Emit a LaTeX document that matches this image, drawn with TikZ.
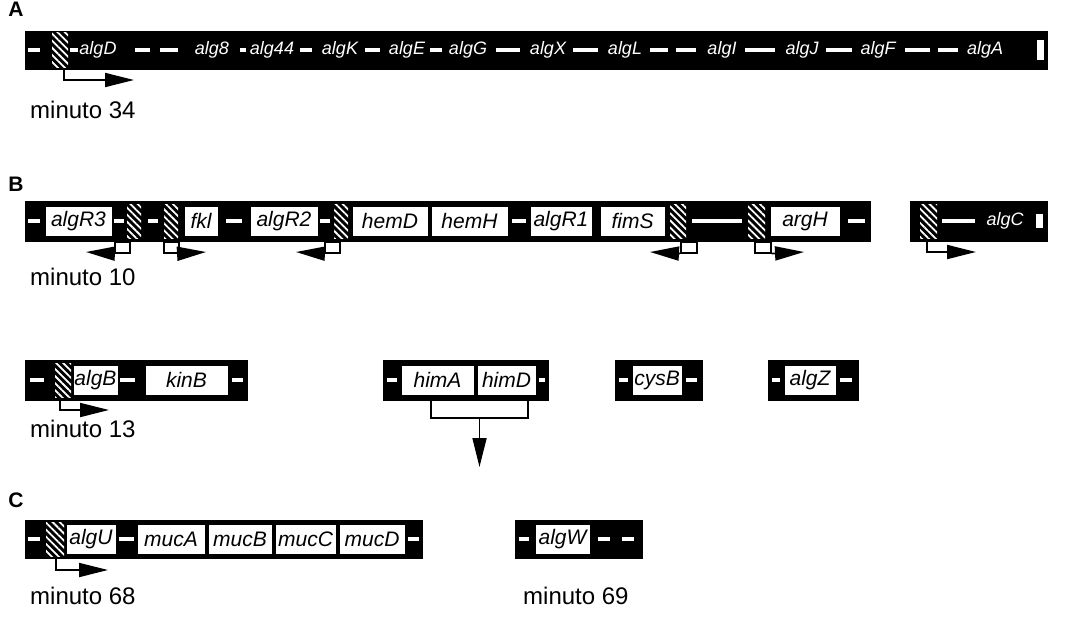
\documentclass[tikz,border=0pt]{standalone}
\usepackage{fontspec}
\setmainfont{Liberation Sans}
\usetikzlibrary{arrows.meta,patterns.meta}
\newcommand\gn[6][gene]{\node[#1,minimum width={#4-#3}] (#2) at ({(#3+#4)/2},#5) {#6};}
\newcommand\hb[4]{\node[hatchbox,minimum width={#3-#2}] (#1) at ({(#2+#3)/2},#4) {};}
\newcommand\tk[3]{\fill[white] (#1,{#3-2}) rectangle (#2,{#3+2});}
\begin{document}
\begin{tikzpicture}[x=1pt,y=-1pt,
  bar/.style={fill=black,draw=black,inner sep=0,minimum height=38},
  gene/.style={draw=black,fill=white,inner sep=0,line width=0.8pt,minimum height=30,font=\fontsize{21}{24}\selectfont\itshape},
  dgene/.style={text=white,inner sep=0,font=\fontsize{18}{22}\selectfont\itshape},
  hatchbox/.style={pattern={Lines[angle=-45,distance=5pt,line width=1.8pt]},pattern color=white,draw=none,inner sep=0,minimum height=34},
  prom/.style={line width=1.8pt,-{Triangle[length=29pt,width=14pt]}},
  pline/.style={line width=1.8pt},
  pbox/.style={draw=black,fill=white,line width=1.6pt,inner sep=0,anchor=north west,minimum height=11},
  minuto/.style={font=\fontsize{24}{28}\selectfont,anchor=base west,inner sep=0},
  panel/.style={font=\fontsize{21}{25}\selectfont\bfseries,inner sep=0}
]
\useasboundingbox (0,0) rectangle (1070,618);

% ---------------- Panel A
\node[panel] (lA) at (16,9) {A};
\node[bar,minimum width=1022] (barA) at (536,50) {};
\tk{28}{40}{50}
\hb{hA}{52}{68}{50}
\tk{70}{78}{50}
\node[dgene] (a1) at (98,50) {algD};
\tk{135}{150}{50}\tk{160}{178}{50}
\node[dgene] (a2) at (212,50) {alg8};
\tk{240}{246}{50}
\node[dgene] (a3) at (272,50) {alg44};
\tk{300}{312}{50}
\node[dgene] (a4) at (340,50) {algK};
\tk{365}{380}{50}
\node[dgene] (a5) at (407,50) {algE};
\tk{430}{442}{50}
\node[dgene] (a6) at (468,50) {algG};
\tk{496}{520}{50}
\node[dgene] (a7) at (548,50) {algX};
\tk{573}{598}{50}
\node[dgene] (a8) at (625,50) {algL};
\tk{650}{668}{50}\tk{676}{696}{50}
\node[dgene] (a9) at (722,50) {algI};
\tk{745}{775}{50}
\node[dgene] (a10) at (802,50) {algJ};
\tk{826}{852}{50}
\node[dgene] (a11) at (878,50) {algF};
\tk{905}{930}{50}\tk{938}{958}{50}
\node[dgene] (a12) at (985,50) {algA};
\fill[white] (1037,40) rectangle (1044,60);
\coordinate (pA1) at (64,80);
\coordinate (pA2) at (134,80);
\draw[prom] (barA.south -| pA1) -- (pA1) -- (pA2);
\node[minuto] (mA) at (30,118) {minuto 34};

% ---------------- Panel B
\node[panel] (lB) at (16,184) {B};
\node[bar,minimum width=845,minimum height=40] (barB1) at (447.5,221) {};
\tk{28}{40}{221}
\gn{gR3}{45}{112}{221}{algR3}
\tk{114}{124}{221}
\hb{hB1}{127}{141}{221}
\tk{148}{158}{221}
\hb{hB2}{164}{178}{221}
\gn{gfkl}{184}{218}{221}{fkl}
\tk{226}{242}{221}
\gn{gR2}{250}{318}{221}{algR2}
\tk{320}{330}{221}
\hb{hB3}{334}{348}{221}
\gn{ghemD}{352}{428}{221}{hemD}
\gn{ghemH}{431}{508}{221}{hemH}
\tk{512}{526}{221}
\gn{gR1}{530}{592}{221}{algR1}
\gn{gfimS}{600}{665}{221}{fimS}
\hb{hB4}{670}{686}{221}
\tk{692}{742}{221}
\hb{hB5}{748}{765}{221}
\gn{gargH}{770}{840}{221}{argH}
\tk{848}{865}{221}
% promoter arrows
\node[pbox,minimum width=15] (pb1) at (114,241) {};
\coordinate (t1) at (86,252);
\draw[prom] (pb1.south west) -- (t1);
\node[pbox,minimum width=15] (pb2) at (163,241) {};
\coordinate (t2) at (206,252);
\draw[prom] (pb2.south east) -- (t2);
\node[pbox,minimum width=15] (pb3) at (324,241) {};
\coordinate (t3) at (296,252);
\draw[prom] (pb3.south west) -- (t3);
\node[pbox,minimum width=16] (pb4) at (680,241) {};
\coordinate (t4) at (650,252);
\draw[prom] (pb4.south west) -- (t4);
\node[pbox,minimum width=16] (pb5) at (754,241) {};
\coordinate (t5) at (804,252);
\draw[prom] (pb5.south east) -- (t5);
% second bar
\node[bar,minimum width=137,minimum height=40] (barB2) at (978.5,221) {};
\hb{hB6}{920}{937}{221}
\tk{942}{975}{221}
\node[dgene] (gC) at (1005,221) {algC};
\fill[white] (1036,214) rectangle (1043,228);
\coordinate (pB1) at (927,252);
\coordinate (pB2) at (976,252);
\draw[prom] (barB2.south -| pB1) -- (pB1) -- (pB2);
\node[minuto] (mB) at (30,285) {minuto 10};

% ---------------- middle row
\node[bar,minimum width=222,minimum height=40] (barB3) at (136,380) {};
\tk{30}{44}{380}
\hb{hB7}{55}{71}{380}
\gn{galgB}{73}{118}{380}{algB}
\tk{120}{135}{380}
\gn{gkinB}{145}{228}{380}{kinB}
\tk{232}{243}{380}
\coordinate (pC1) at (60,410);
\coordinate (pC2) at (109,410);
\draw[prom] (barB3.south -| pC1) -- (pC1) -- (pC2);
\node[minuto] (mC) at (30,437) {minuto 13};

\node[bar,minimum width=165,minimum height=40] (barHim) at (465.5,380) {};
\tk{387}{397}{380}
\gn{ghimA}{401}{474}{380}{himA}
\gn{ghimD}{477}{536}{380}{himD}
\tk{539}{545}{380}
\coordinate (k1) at (431,418);
\coordinate (k2) at (528,418);
\coordinate (k3) at (479.5,418);
\coordinate (k4) at (479.5,467);
\draw[pline] (barHim.south -| k1) -- (k1) -- (k2) -- (barHim.south -| k2);
\draw[prom] (k3) -- (k4);

\node[bar,minimum width=87,minimum height=40] (barCys) at (658.5,380) {};
\tk{619}{628}{380}
\gn{gcysB}{632}{682}{380}{cysB}
\tk{686}{697}{380}

\node[bar,minimum width=90,minimum height=40] (barZ) at (813,380) {};
\tk{772}{780}{380}
\gn{galgZ}{784}{836}{380}{algZ}
\tk{840}{852}{380}

% ---------------- Panel C
\node[panel] (lC) at (16,500) {C};
\node[bar,minimum width=397] (barC) at (223.5,539) {};
\tk{28}{40}{539}
\hb{hC1}{46}{64}{539}
\gn{galgU}{66}{116}{539}{algU}
\tk{119}{134}{539}
\gn{gmucA}{137}{205}{539}{mucA}
\gn{gmucB}{208}{272}{539}{mucB}
\gn{gmucC}{275}{336}{539}{mucC}
\gn{gmucD}{339}{405}{539}{mucD}
\tk{408}{419}{539}
\coordinate (pD1) at (56,570);
\coordinate (pD2) at (108,570);
\draw[prom] (barC.south -| pD1) -- (pD1) -- (pD2);
\node[minuto] (mD) at (30,604) {minuto 68};

\node[bar,minimum width=127] (barW) at (578.5,539) {};
\tk{519}{529}{539}
\gn{galgW}{535}{590}{539}{algW}
\tk{598}{610}{539}
\tk{622}{634}{539}
\node[minuto] (mE) at (523,604) {minuto 69};
\end{tikzpicture}
\end{document}
